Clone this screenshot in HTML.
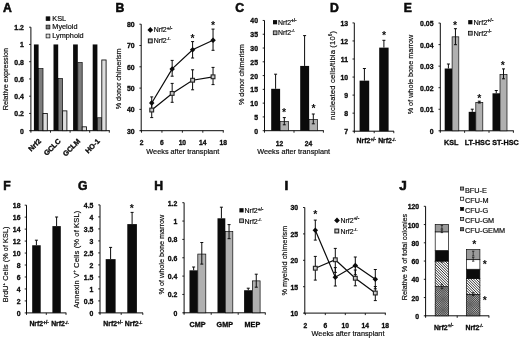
<!DOCTYPE html>
<html lang="en">
<head>
<meta charset="utf-8">
<title>Figure: Nrf2 panels A-J</title>
<style>
html,body{margin:0;padding:0;background:#fff;}
body{width:520px;height:340px;overflow:hidden;}
svg{display:block;font-family:"Liberation Sans", Arial, sans-serif;filter:grayscale(1) blur(0.4px);}
</style>
</head>
<body>
<svg width="520" height="340" viewBox="0 0 520 340">
<rect width="520" height="340" fill="#fff"/>

<text x="2.9" y="12" font-size="12.2" font-weight="bold" stroke="#0b0b0b" stroke-width="0.55" fill="#0b0b0b">A</text>
<line x1="30.9" y1="27.2" x2="30.9" y2="131.2" stroke="#0b0b0b" stroke-width="1"/>
<line x1="29.1" y1="130.7" x2="30.9" y2="130.7" stroke="#0b0b0b" stroke-width="0.9"/>
<text x="23.9" y="133.67" font-size="6.9" text-anchor="end" font-weight="bold" stroke="#0b0b0b" stroke-width="0.31" fill="#0b0b0b">0</text>
<line x1="29.1" y1="113.45" x2="30.9" y2="113.45" stroke="#0b0b0b" stroke-width="0.9"/>
<text x="23.9" y="116.42" font-size="6.9" text-anchor="end" font-weight="bold" stroke="#0b0b0b" stroke-width="0.31" fill="#0b0b0b">0.2</text>
<line x1="29.1" y1="96.2" x2="30.9" y2="96.2" stroke="#0b0b0b" stroke-width="0.9"/>
<text x="23.9" y="99.17" font-size="6.9" text-anchor="end" font-weight="bold" stroke="#0b0b0b" stroke-width="0.31" fill="#0b0b0b">0.4</text>
<line x1="29.1" y1="78.95" x2="30.9" y2="78.95" stroke="#0b0b0b" stroke-width="0.9"/>
<text x="23.9" y="81.92" font-size="6.9" text-anchor="end" font-weight="bold" stroke="#0b0b0b" stroke-width="0.31" fill="#0b0b0b">0.6</text>
<line x1="29.1" y1="61.7" x2="30.9" y2="61.7" stroke="#0b0b0b" stroke-width="0.9"/>
<text x="23.9" y="64.67" font-size="6.9" text-anchor="end" font-weight="bold" stroke="#0b0b0b" stroke-width="0.31" fill="#0b0b0b">0.8</text>
<line x1="29.1" y1="44.45" x2="30.9" y2="44.45" stroke="#0b0b0b" stroke-width="0.9"/>
<text x="23.9" y="47.42" font-size="6.9" text-anchor="end" font-weight="bold" stroke="#0b0b0b" stroke-width="0.31" fill="#0b0b0b">1</text>
<line x1="29.1" y1="27.2" x2="30.9" y2="27.2" stroke="#0b0b0b" stroke-width="0.9"/>
<text x="23.9" y="30.17" font-size="6.9" text-anchor="end" font-weight="bold" stroke="#0b0b0b" stroke-width="0.31" fill="#0b0b0b">1.2</text>
<line x1="30.4" y1="130.7" x2="109.8" y2="130.7" stroke="#0b0b0b" stroke-width="1"/>
<line x1="30.9" y1="130.7" x2="30.9" y2="132.7" stroke="#0b0b0b" stroke-width="0.9"/>
<line x1="50.5" y1="130.7" x2="50.5" y2="132.7" stroke="#0b0b0b" stroke-width="0.9"/>
<line x1="70.1" y1="130.7" x2="70.1" y2="132.7" stroke="#0b0b0b" stroke-width="0.9"/>
<line x1="89.7" y1="130.7" x2="89.7" y2="132.7" stroke="#0b0b0b" stroke-width="0.9"/>
<line x1="109.3" y1="130.7" x2="109.3" y2="132.7" stroke="#0b0b0b" stroke-width="0.9"/>
<rect x="33.9" y="44.45" width="4.7" height="86.25" fill="#0b0b0b"/>
<rect x="38.6" y="68.6" width="4.4" height="62.1" fill="#7d7d7d" stroke="#0b0b0b" stroke-width="0.7"/>
<rect x="43" y="113.45" width="4.3" height="17.25" fill="#dedede" stroke="#0b0b0b" stroke-width="0.85"/>
<rect x="53.5" y="44.45" width="4.7" height="86.25" fill="#0b0b0b"/>
<rect x="58.2" y="78.52" width="4.4" height="52.18" fill="#7d7d7d" stroke="#0b0b0b" stroke-width="0.7"/>
<rect x="62.6" y="110.86" width="4.3" height="19.84" fill="#dedede" stroke="#0b0b0b" stroke-width="0.85"/>
<rect x="73.1" y="44.45" width="4.7" height="86.25" fill="#0b0b0b"/>
<rect x="77.8" y="62.56" width="4.4" height="68.14" fill="#7d7d7d" stroke="#0b0b0b" stroke-width="0.7"/>
<rect x="82.2" y="126.82" width="4.3" height="3.88" fill="#dedede" stroke="#0b0b0b" stroke-width="0.85"/>
<rect x="92.7" y="44.45" width="4.7" height="86.25" fill="#0b0b0b"/>
<rect x="97.4" y="117.76" width="4.4" height="12.94" fill="#7d7d7d" stroke="#0b0b0b" stroke-width="0.7"/>
<rect x="101.8" y="59.97" width="4.3" height="70.72" fill="#dedede" stroke="#0b0b0b" stroke-width="0.85"/>
<text x="41.5" y="141.7" font-size="7.2" text-anchor="end" font-weight="bold" stroke="#0b0b0b" stroke-width="0.32" transform="rotate(-45 41.5 141.7)" fill="#0b0b0b">Nrf2</text>
<text x="61.1" y="141.7" font-size="7.2" text-anchor="end" font-weight="bold" stroke="#0b0b0b" stroke-width="0.32" transform="rotate(-45 61.1 141.7)" fill="#0b0b0b">GCLC</text>
<text x="80.7" y="141.7" font-size="7.2" text-anchor="end" font-weight="bold" stroke="#0b0b0b" stroke-width="0.32" transform="rotate(-45 80.7 141.7)" fill="#0b0b0b">GCLM</text>
<text x="100.3" y="141.7" font-size="7.2" text-anchor="end" font-weight="bold" stroke="#0b0b0b" stroke-width="0.32" transform="rotate(-45 100.3 141.7)" fill="#0b0b0b">HO-1</text>
<text x="8" y="79" font-size="7.25" text-anchor="middle" stroke="#0b0b0b" stroke-width="0.18" transform="rotate(-90 8 79)" fill="#0b0b0b" textLength="62.3" lengthAdjust="spacing">Relative expression</text>
<rect x="46.1" y="16.8" width="3.8" height="3.8" fill="#0b0b0b" stroke="#0b0b0b" stroke-width="0.7"/>
<text x="52.3" y="20.7" font-size="7.3" stroke="#0b0b0b" stroke-width="0.18" fill="#0b0b0b">KSL</text>
<rect x="46.1" y="25.1" width="3.8" height="3.8" fill="#7d7d7d" stroke="#0b0b0b" stroke-width="0.7"/>
<text x="52.3" y="29" font-size="7.3" stroke="#0b0b0b" stroke-width="0.18" fill="#0b0b0b">Myeloid</text>
<rect x="46.1" y="34.1" width="3.8" height="3.8" fill="#dedede" stroke="#0b0b0b" stroke-width="0.7"/>
<text x="52.3" y="38" font-size="7.3" stroke="#0b0b0b" stroke-width="0.18" fill="#0b0b0b">Lymphoid</text>
<text x="115.4" y="12" font-size="12.2" font-weight="bold" stroke="#0b0b0b" stroke-width="0.55" fill="#0b0b0b">B</text>
<line x1="141.2" y1="24.2" x2="141.2" y2="131.2" stroke="#0b0b0b" stroke-width="1"/>
<line x1="139.4" y1="130.7" x2="141.2" y2="130.7" stroke="#0b0b0b" stroke-width="0.9"/>
<text x="134.7" y="133.67" font-size="6.9" text-anchor="end" font-weight="bold" stroke="#0b0b0b" stroke-width="0.31" fill="#0b0b0b">30</text>
<line x1="139.4" y1="109.4" x2="141.2" y2="109.4" stroke="#0b0b0b" stroke-width="0.9"/>
<text x="134.7" y="112.37" font-size="6.9" text-anchor="end" font-weight="bold" stroke="#0b0b0b" stroke-width="0.31" fill="#0b0b0b">40</text>
<line x1="139.4" y1="88.1" x2="141.2" y2="88.1" stroke="#0b0b0b" stroke-width="0.9"/>
<text x="134.7" y="91.07" font-size="6.9" text-anchor="end" font-weight="bold" stroke="#0b0b0b" stroke-width="0.31" fill="#0b0b0b">50</text>
<line x1="139.4" y1="66.8" x2="141.2" y2="66.8" stroke="#0b0b0b" stroke-width="0.9"/>
<text x="134.7" y="69.77" font-size="6.9" text-anchor="end" font-weight="bold" stroke="#0b0b0b" stroke-width="0.31" fill="#0b0b0b">60</text>
<line x1="139.4" y1="45.5" x2="141.2" y2="45.5" stroke="#0b0b0b" stroke-width="0.9"/>
<text x="134.7" y="48.47" font-size="6.9" text-anchor="end" font-weight="bold" stroke="#0b0b0b" stroke-width="0.31" fill="#0b0b0b">70</text>
<line x1="139.4" y1="24.2" x2="141.2" y2="24.2" stroke="#0b0b0b" stroke-width="0.9"/>
<text x="134.7" y="27.17" font-size="6.9" text-anchor="end" font-weight="bold" stroke="#0b0b0b" stroke-width="0.31" fill="#0b0b0b">80</text>
<line x1="140.7" y1="130.7" x2="223.76" y2="130.7" stroke="#0b0b0b" stroke-width="1"/>
<line x1="141.5" y1="130.7" x2="141.5" y2="132.7" stroke="#0b0b0b" stroke-width="0.9"/>
<line x1="161.94" y1="130.7" x2="161.94" y2="132.7" stroke="#0b0b0b" stroke-width="0.9"/>
<line x1="182.38" y1="130.7" x2="182.38" y2="132.7" stroke="#0b0b0b" stroke-width="0.9"/>
<line x1="202.82" y1="130.7" x2="202.82" y2="132.7" stroke="#0b0b0b" stroke-width="0.9"/>
<line x1="223.26" y1="130.7" x2="223.26" y2="132.7" stroke="#0b0b0b" stroke-width="0.9"/>
<text x="141.5" y="144.8" font-size="6.7" text-anchor="middle" font-weight="bold" stroke="#0b0b0b" stroke-width="0.3" fill="#0b0b0b">2</text>
<text x="161.94" y="144.8" font-size="6.7" text-anchor="middle" font-weight="bold" stroke="#0b0b0b" stroke-width="0.3" fill="#0b0b0b">6</text>
<text x="182.38" y="144.8" font-size="6.7" text-anchor="middle" font-weight="bold" stroke="#0b0b0b" stroke-width="0.3" fill="#0b0b0b">10</text>
<text x="202.82" y="144.8" font-size="6.7" text-anchor="middle" font-weight="bold" stroke="#0b0b0b" stroke-width="0.3" fill="#0b0b0b">14</text>
<text x="223.26" y="144.8" font-size="6.7" text-anchor="middle" font-weight="bold" stroke="#0b0b0b" stroke-width="0.3" fill="#0b0b0b">18</text>
<text x="182.8" y="154" font-size="7.3" text-anchor="middle" stroke="#0b0b0b" stroke-width="0.18" fill="#0b0b0b">Weeks after transplant</text>
<text x="121.5" y="78.8" font-size="7.25" text-anchor="middle" stroke="#0b0b0b" stroke-width="0.18" transform="rotate(-90 121.5 78.8)" fill="#0b0b0b" textLength="60.8" lengthAdjust="spacing">% donor chimerism</text>
<line x1="151.72" y1="96.9" x2="151.72" y2="108.9" stroke="#0b0b0b" stroke-width="1"/>
<line x1="150.22" y1="96.9" x2="153.22" y2="96.9" stroke="#0b0b0b" stroke-width="1"/>
<line x1="150.22" y1="108.9" x2="153.22" y2="108.9" stroke="#0b0b0b" stroke-width="1"/>
<line x1="172.16" y1="60.4" x2="172.16" y2="76.2" stroke="#0b0b0b" stroke-width="1"/>
<line x1="170.66" y1="60.4" x2="173.66" y2="60.4" stroke="#0b0b0b" stroke-width="1"/>
<line x1="170.66" y1="76.2" x2="173.66" y2="76.2" stroke="#0b0b0b" stroke-width="1"/>
<line x1="192.6" y1="41.6" x2="192.6" y2="58" stroke="#0b0b0b" stroke-width="1"/>
<line x1="191.1" y1="41.6" x2="194.1" y2="41.6" stroke="#0b0b0b" stroke-width="1"/>
<line x1="191.1" y1="58" x2="194.1" y2="58" stroke="#0b0b0b" stroke-width="1"/>
<line x1="213.04" y1="29.1" x2="213.04" y2="50.3" stroke="#0b0b0b" stroke-width="1"/>
<line x1="211.54" y1="29.1" x2="214.54" y2="29.1" stroke="#0b0b0b" stroke-width="1"/>
<line x1="211.54" y1="50.3" x2="214.54" y2="50.3" stroke="#0b0b0b" stroke-width="1"/>
<line x1="151.72" y1="101.9" x2="151.72" y2="117.6" stroke="#0b0b0b" stroke-width="1"/>
<line x1="150.22" y1="101.9" x2="153.22" y2="101.9" stroke="#0b0b0b" stroke-width="1"/>
<line x1="150.22" y1="117.6" x2="153.22" y2="117.6" stroke="#0b0b0b" stroke-width="1"/>
<line x1="172.16" y1="83.4" x2="172.16" y2="102.3" stroke="#0b0b0b" stroke-width="1"/>
<line x1="170.66" y1="83.4" x2="173.66" y2="83.4" stroke="#0b0b0b" stroke-width="1"/>
<line x1="170.66" y1="102.3" x2="173.66" y2="102.3" stroke="#0b0b0b" stroke-width="1"/>
<line x1="192.6" y1="69.8" x2="192.6" y2="89.8" stroke="#0b0b0b" stroke-width="1"/>
<line x1="191.1" y1="69.8" x2="194.1" y2="69.8" stroke="#0b0b0b" stroke-width="1"/>
<line x1="191.1" y1="89.8" x2="194.1" y2="89.8" stroke="#0b0b0b" stroke-width="1"/>
<line x1="213.04" y1="67.4" x2="213.04" y2="84.6" stroke="#0b0b0b" stroke-width="1"/>
<line x1="211.54" y1="67.4" x2="214.54" y2="67.4" stroke="#0b0b0b" stroke-width="1"/>
<line x1="211.54" y1="84.6" x2="214.54" y2="84.6" stroke="#0b0b0b" stroke-width="1"/>
<polyline points="151.72,103.01 172.16,68.93 192.6,49.76 213.04,40.17" fill="none" stroke="#0b0b0b" stroke-width="1.2"/>
<polyline points="151.72,110.04 172.16,93.42 192.6,80.22 213.04,76.81" fill="none" stroke="#0b0b0b" stroke-width="1.2"/>
<path d="M151.72 100.26 L154.47 103.01 L151.72 105.76 L148.97 103.01Z" fill="#0b0b0b"/>
<path d="M172.16 66.18 L174.91 68.93 L172.16 71.68 L169.41 68.93Z" fill="#0b0b0b"/>
<path d="M192.6 47.01 L195.35 49.76 L192.6 52.51 L189.85 49.76Z" fill="#0b0b0b"/>
<path d="M213.04 37.42 L215.79 40.17 L213.04 42.92 L210.29 40.17Z" fill="#0b0b0b"/>
<rect x="149.82" y="108.14" width="3.8" height="3.8" fill="#c8c8c8" stroke="#222" stroke-width="1.1"/>
<rect x="170.26" y="91.52" width="3.8" height="3.8" fill="#c8c8c8" stroke="#222" stroke-width="1.1"/>
<rect x="190.7" y="78.32" width="3.8" height="3.8" fill="#c8c8c8" stroke="#222" stroke-width="1.1"/>
<rect x="211.14" y="74.91" width="3.8" height="3.8" fill="#c8c8c8" stroke="#222" stroke-width="1.1"/>
<text x="192.6" y="42.34" font-size="10.5" font-weight="bold" text-anchor="middle" fill="#0b0b0b">*</text>
<text x="213.04" y="28.84" font-size="10.5" font-weight="bold" text-anchor="middle" fill="#0b0b0b">*</text>
<path d="M150.3 27.05 L153.15 29.9 L150.3 32.75 L147.45 29.9Z" fill="#0b0b0b"/>
<text x="153.7" y="32.4" font-size="6.9" stroke="#0b0b0b" stroke-width="0.18" fill="#0b0b0b">Nrf2<tspan font-size="4.69" dy="-2.76" font-weight="bold">+/-</tspan></text>
<rect x="148.4" y="39" width="3.8" height="3.8" fill="#c8c8c8" stroke="#222" stroke-width="1.1"/>
<text x="153.7" y="43" font-size="6.9" stroke="#0b0b0b" stroke-width="0.18" fill="#0b0b0b">Nrf2<tspan font-size="4.14" dy="-2.76" font-weight="bold">-/-</tspan></text>
<text x="235.2" y="12" font-size="12.2" font-weight="bold" stroke="#0b0b0b" stroke-width="0.55" fill="#0b0b0b">C</text>
<line x1="264.5" y1="20.46" x2="264.5" y2="131.2" stroke="#0b0b0b" stroke-width="1"/>
<line x1="262.7" y1="130.7" x2="264.5" y2="130.7" stroke="#0b0b0b" stroke-width="0.9"/>
<text x="258" y="133.67" font-size="6.9" text-anchor="end" font-weight="bold" stroke="#0b0b0b" stroke-width="0.31" fill="#0b0b0b">0</text>
<line x1="262.7" y1="116.92" x2="264.5" y2="116.92" stroke="#0b0b0b" stroke-width="0.9"/>
<text x="258" y="119.89" font-size="6.9" text-anchor="end" font-weight="bold" stroke="#0b0b0b" stroke-width="0.31" fill="#0b0b0b">5</text>
<line x1="262.7" y1="103.14" x2="264.5" y2="103.14" stroke="#0b0b0b" stroke-width="0.9"/>
<text x="258" y="106.11" font-size="6.9" text-anchor="end" font-weight="bold" stroke="#0b0b0b" stroke-width="0.31" fill="#0b0b0b">10</text>
<line x1="262.7" y1="89.36" x2="264.5" y2="89.36" stroke="#0b0b0b" stroke-width="0.9"/>
<text x="258" y="92.33" font-size="6.9" text-anchor="end" font-weight="bold" stroke="#0b0b0b" stroke-width="0.31" fill="#0b0b0b">15</text>
<line x1="262.7" y1="75.58" x2="264.5" y2="75.58" stroke="#0b0b0b" stroke-width="0.9"/>
<text x="258" y="78.55" font-size="6.9" text-anchor="end" font-weight="bold" stroke="#0b0b0b" stroke-width="0.31" fill="#0b0b0b">20</text>
<line x1="262.7" y1="61.8" x2="264.5" y2="61.8" stroke="#0b0b0b" stroke-width="0.9"/>
<text x="258" y="64.77" font-size="6.9" text-anchor="end" font-weight="bold" stroke="#0b0b0b" stroke-width="0.31" fill="#0b0b0b">25</text>
<line x1="262.7" y1="48.02" x2="264.5" y2="48.02" stroke="#0b0b0b" stroke-width="0.9"/>
<text x="258" y="50.99" font-size="6.9" text-anchor="end" font-weight="bold" stroke="#0b0b0b" stroke-width="0.31" fill="#0b0b0b">30</text>
<line x1="262.7" y1="34.24" x2="264.5" y2="34.24" stroke="#0b0b0b" stroke-width="0.9"/>
<text x="258" y="37.21" font-size="6.9" text-anchor="end" font-weight="bold" stroke="#0b0b0b" stroke-width="0.31" fill="#0b0b0b">35</text>
<line x1="262.7" y1="20.46" x2="264.5" y2="20.46" stroke="#0b0b0b" stroke-width="0.9"/>
<text x="258" y="23.43" font-size="6.9" text-anchor="end" font-weight="bold" stroke="#0b0b0b" stroke-width="0.31" fill="#0b0b0b">40</text>
<line x1="264" y1="130.7" x2="323.8" y2="130.7" stroke="#0b0b0b" stroke-width="1"/>
<line x1="264.5" y1="130.7" x2="264.5" y2="132.7" stroke="#0b0b0b" stroke-width="0.9"/>
<line x1="294" y1="130.7" x2="294" y2="132.7" stroke="#0b0b0b" stroke-width="0.9"/>
<line x1="323.4" y1="130.7" x2="323.4" y2="132.7" stroke="#0b0b0b" stroke-width="0.9"/>
<rect x="271.2" y="88.81" width="8.9" height="41.89" fill="#0b0b0b"/>
<rect x="280.1" y="121.61" width="8.4" height="9.09" fill="#b0b0b0" stroke="#0b0b0b" stroke-width="0.7"/>
<rect x="300.2" y="65.93" width="8.9" height="64.77" fill="#0b0b0b"/>
<rect x="309.1" y="119.4" width="8.4" height="11.3" fill="#b0b0b0" stroke="#0b0b0b" stroke-width="0.7"/>
<line x1="275.6" y1="74.2" x2="275.6" y2="88.81" stroke="#0b0b0b" stroke-width="1"/>
<line x1="274.1" y1="74.2" x2="277.1" y2="74.2" stroke="#0b0b0b" stroke-width="1"/>
<line x1="304.6" y1="35.6" x2="304.6" y2="65.93" stroke="#0b0b0b" stroke-width="1"/>
<line x1="303.1" y1="35.6" x2="306.1" y2="35.6" stroke="#0b0b0b" stroke-width="1"/>
<line x1="284.3" y1="117.6" x2="284.3" y2="124.8" stroke="#0b0b0b" stroke-width="1"/>
<line x1="282.8" y1="117.6" x2="285.8" y2="117.6" stroke="#0b0b0b" stroke-width="1"/>
<line x1="282.8" y1="124.8" x2="285.8" y2="124.8" stroke="#0b0b0b" stroke-width="1"/>
<line x1="313.3" y1="114" x2="313.3" y2="123.8" stroke="#0b0b0b" stroke-width="1"/>
<line x1="311.8" y1="114" x2="314.8" y2="114" stroke="#0b0b0b" stroke-width="1"/>
<line x1="311.8" y1="123.8" x2="314.8" y2="123.8" stroke="#0b0b0b" stroke-width="1"/>
<text x="284" y="116.34" font-size="10.5" font-weight="bold" text-anchor="middle" fill="#0b0b0b">*</text>
<text x="313.5" y="112.04" font-size="10.5" font-weight="bold" text-anchor="middle" fill="#0b0b0b">*</text>
<text x="279.6" y="145.7" font-size="6.7" text-anchor="middle" font-weight="bold" stroke="#0b0b0b" stroke-width="0.3" fill="#0b0b0b">12</text>
<text x="308.6" y="145.7" font-size="6.7" text-anchor="middle" font-weight="bold" stroke="#0b0b0b" stroke-width="0.3" fill="#0b0b0b">24</text>
<text x="293.7" y="153.8" font-size="7.3" text-anchor="middle" stroke="#0b0b0b" stroke-width="0.18" fill="#0b0b0b">Weeks after transplant</text>
<text x="244.5" y="74.6" font-size="7.25" text-anchor="middle" stroke="#0b0b0b" stroke-width="0.18" transform="rotate(-90 244.5 74.6)" fill="#0b0b0b" textLength="61" lengthAdjust="spacing">% donor chimerism</text>
<rect x="273" y="20.1" width="4.1" height="4.2" fill="#0b0b0b"/>
<text x="278" y="24.7" font-size="6.9" stroke="#0b0b0b" stroke-width="0.18" fill="#0b0b0b">Nrf2<tspan font-size="4.69" dy="-2.76" font-weight="bold">+/-</tspan></text>
<rect x="273.3" y="30.9" width="3.7" height="3.8" fill="#b0b0b0" stroke="#0b0b0b" stroke-width="0.8"/>
<text x="278" y="35.1" font-size="6.9" stroke="#0b0b0b" stroke-width="0.18" fill="#0b0b0b">Nrf2<tspan font-size="4.14" dy="-2.76" font-weight="bold">-/-</tspan></text>
<text x="330" y="12" font-size="12.2" font-weight="bold" stroke="#0b0b0b" stroke-width="0.55" fill="#0b0b0b">D</text>
<line x1="354.3" y1="22.9" x2="354.3" y2="131.7" stroke="#0b0b0b" stroke-width="1"/>
<line x1="352.5" y1="131.2" x2="354.3" y2="131.2" stroke="#0b0b0b" stroke-width="0.9"/>
<text x="348.1" y="134.17" font-size="6.9" text-anchor="end" font-weight="bold" stroke="#0b0b0b" stroke-width="0.31" fill="#0b0b0b">7</text>
<line x1="352.5" y1="113.15" x2="354.3" y2="113.15" stroke="#0b0b0b" stroke-width="0.9"/>
<text x="348.1" y="116.12" font-size="6.9" text-anchor="end" font-weight="bold" stroke="#0b0b0b" stroke-width="0.31" fill="#0b0b0b">8</text>
<line x1="352.5" y1="95.1" x2="354.3" y2="95.1" stroke="#0b0b0b" stroke-width="0.9"/>
<text x="348.1" y="98.07" font-size="6.9" text-anchor="end" font-weight="bold" stroke="#0b0b0b" stroke-width="0.31" fill="#0b0b0b">9</text>
<line x1="352.5" y1="77.05" x2="354.3" y2="77.05" stroke="#0b0b0b" stroke-width="0.9"/>
<text x="348.1" y="80.02" font-size="6.9" text-anchor="end" font-weight="bold" stroke="#0b0b0b" stroke-width="0.31" fill="#0b0b0b">10</text>
<line x1="352.5" y1="59" x2="354.3" y2="59" stroke="#0b0b0b" stroke-width="0.9"/>
<text x="348.1" y="61.97" font-size="6.9" text-anchor="end" font-weight="bold" stroke="#0b0b0b" stroke-width="0.31" fill="#0b0b0b">11</text>
<line x1="352.5" y1="40.95" x2="354.3" y2="40.95" stroke="#0b0b0b" stroke-width="0.9"/>
<text x="348.1" y="43.92" font-size="6.9" text-anchor="end" font-weight="bold" stroke="#0b0b0b" stroke-width="0.31" fill="#0b0b0b">12</text>
<line x1="352.5" y1="22.9" x2="354.3" y2="22.9" stroke="#0b0b0b" stroke-width="0.9"/>
<text x="348.1" y="25.87" font-size="6.9" text-anchor="end" font-weight="bold" stroke="#0b0b0b" stroke-width="0.31" fill="#0b0b0b">13</text>
<line x1="353.8" y1="131.2" x2="394" y2="131.2" stroke="#0b0b0b" stroke-width="1"/>
<line x1="354.3" y1="131.2" x2="354.3" y2="133.2" stroke="#0b0b0b" stroke-width="0.9"/>
<line x1="374.2" y1="131.2" x2="374.2" y2="133.2" stroke="#0b0b0b" stroke-width="0.9"/>
<line x1="393.8" y1="131.2" x2="393.8" y2="133.2" stroke="#0b0b0b" stroke-width="0.9"/>
<rect x="359.6" y="80.66" width="9.6" height="50.54" fill="#0b0b0b"/>
<rect x="379.2" y="47.63" width="9.4" height="83.57" fill="#0b0b0b"/>
<line x1="364.4" y1="68.5" x2="364.4" y2="80.66" stroke="#0b0b0b" stroke-width="1"/>
<line x1="362.9" y1="68.5" x2="365.9" y2="68.5" stroke="#0b0b0b" stroke-width="1"/>
<line x1="383.9" y1="40.3" x2="383.9" y2="47.63" stroke="#0b0b0b" stroke-width="1"/>
<line x1="382.4" y1="40.3" x2="385.4" y2="40.3" stroke="#0b0b0b" stroke-width="1"/>
<text x="384" y="39.34" font-size="10.5" font-weight="bold" text-anchor="middle" fill="#0b0b0b">*</text>
<text x="366.3" y="143.4" font-size="6.9" text-anchor="middle" font-weight="bold" stroke="#0b0b0b" stroke-width="0.31" fill="#0b0b0b">Nrf2<tspan font-size="4.69" dy="-2.76" font-weight="bold">+/-</tspan></text>
<text x="387" y="143.4" font-size="6.9" text-anchor="middle" font-weight="bold" stroke="#0b0b0b" stroke-width="0.31" fill="#0b0b0b">Nrf2<tspan font-size="4.14" dy="-2.76" font-weight="bold">-/-</tspan></text>
<text x="335" y="75.4" font-size="7.7" text-anchor="middle" stroke="#0b0b0b" stroke-width="0.18" transform="rotate(-90 335 75.4)" fill="#0b0b0b" textLength="89" lengthAdjust="spacing">nucleated cells/tibia (10<tspan font-size="4.6" dy="-2.8">6</tspan><tspan dy="2.8">)</tspan></text>
<text x="403.8" y="12" font-size="12.2" font-weight="bold" stroke="#0b0b0b" stroke-width="0.55" fill="#0b0b0b">E</text>
<line x1="440.3" y1="23.05" x2="440.3" y2="131.3" stroke="#0b0b0b" stroke-width="1"/>
<line x1="438.5" y1="130.8" x2="440.3" y2="130.8" stroke="#0b0b0b" stroke-width="0.9"/>
<text x="433.5" y="133.77" font-size="6.9" text-anchor="end" font-weight="bold" stroke="#0b0b0b" stroke-width="0.31" fill="#0b0b0b">0</text>
<line x1="438.5" y1="109.25" x2="440.3" y2="109.25" stroke="#0b0b0b" stroke-width="0.9"/>
<text x="433.5" y="112.22" font-size="6.9" text-anchor="end" font-weight="bold" stroke="#0b0b0b" stroke-width="0.31" fill="#0b0b0b">0.01</text>
<line x1="438.5" y1="87.7" x2="440.3" y2="87.7" stroke="#0b0b0b" stroke-width="0.9"/>
<text x="433.5" y="90.67" font-size="6.9" text-anchor="end" font-weight="bold" stroke="#0b0b0b" stroke-width="0.31" fill="#0b0b0b">0.02</text>
<line x1="438.5" y1="66.15" x2="440.3" y2="66.15" stroke="#0b0b0b" stroke-width="0.9"/>
<text x="433.5" y="69.12" font-size="6.9" text-anchor="end" font-weight="bold" stroke="#0b0b0b" stroke-width="0.31" fill="#0b0b0b">0.03</text>
<line x1="438.5" y1="44.6" x2="440.3" y2="44.6" stroke="#0b0b0b" stroke-width="0.9"/>
<text x="433.5" y="47.57" font-size="6.9" text-anchor="end" font-weight="bold" stroke="#0b0b0b" stroke-width="0.31" fill="#0b0b0b">0.04</text>
<line x1="438.5" y1="23.05" x2="440.3" y2="23.05" stroke="#0b0b0b" stroke-width="0.9"/>
<text x="433.5" y="26.02" font-size="6.9" text-anchor="end" font-weight="bold" stroke="#0b0b0b" stroke-width="0.31" fill="#0b0b0b">0.05</text>
<line x1="439.8" y1="130.8" x2="513.8" y2="130.8" stroke="#0b0b0b" stroke-width="1"/>
<line x1="440.3" y1="130.8" x2="440.3" y2="132.8" stroke="#0b0b0b" stroke-width="0.9"/>
<line x1="464.6" y1="130.8" x2="464.6" y2="132.8" stroke="#0b0b0b" stroke-width="0.9"/>
<line x1="489" y1="130.8" x2="489" y2="132.8" stroke="#0b0b0b" stroke-width="0.9"/>
<line x1="513.4" y1="130.8" x2="513.4" y2="132.8" stroke="#0b0b0b" stroke-width="0.9"/>
<rect x="444.7" y="68.52" width="7.4" height="62.28" fill="#0b0b0b"/>
<rect x="452.1" y="36.84" width="6.7" height="93.96" fill="#b0b0b0" stroke="#0b0b0b" stroke-width="0.7"/>
<line x1="448.4" y1="64" x2="448.4" y2="68.52" stroke="#0b0b0b" stroke-width="1"/>
<line x1="446.9" y1="64" x2="449.9" y2="64" stroke="#0b0b0b" stroke-width="1"/>
<line x1="455.45" y1="28.7" x2="455.45" y2="44.7" stroke="#0b0b0b" stroke-width="1"/>
<line x1="453.95" y1="28.7" x2="456.95" y2="28.7" stroke="#0b0b0b" stroke-width="1"/>
<line x1="453.95" y1="44.7" x2="456.95" y2="44.7" stroke="#0b0b0b" stroke-width="1"/>
<rect x="468.7" y="111.84" width="7.1" height="18.96" fill="#0b0b0b"/>
<rect x="475.8" y="102.35" width="7" height="28.45" fill="#b0b0b0" stroke="#0b0b0b" stroke-width="0.7"/>
<line x1="472.25" y1="109.2" x2="472.25" y2="111.84" stroke="#0b0b0b" stroke-width="1"/>
<line x1="470.75" y1="109.2" x2="473.75" y2="109.2" stroke="#0b0b0b" stroke-width="1"/>
<line x1="479.3" y1="101.2" x2="479.3" y2="103" stroke="#0b0b0b" stroke-width="1"/>
<line x1="477.8" y1="101.2" x2="480.8" y2="101.2" stroke="#0b0b0b" stroke-width="1"/>
<line x1="477.8" y1="103" x2="480.8" y2="103" stroke="#0b0b0b" stroke-width="1"/>
<rect x="492.5" y="93.3" width="7.5" height="37.5" fill="#0b0b0b"/>
<rect x="500" y="74.55" width="7" height="56.25" fill="#b0b0b0" stroke="#0b0b0b" stroke-width="0.7"/>
<line x1="496.25" y1="90.5" x2="496.25" y2="93.3" stroke="#0b0b0b" stroke-width="1"/>
<line x1="494.75" y1="90.5" x2="497.75" y2="90.5" stroke="#0b0b0b" stroke-width="1"/>
<line x1="503.5" y1="68.9" x2="503.5" y2="78.8" stroke="#0b0b0b" stroke-width="1"/>
<line x1="502" y1="68.9" x2="505" y2="68.9" stroke="#0b0b0b" stroke-width="1"/>
<line x1="502" y1="78.8" x2="505" y2="78.8" stroke="#0b0b0b" stroke-width="1"/>
<text x="455" y="29.34" font-size="10.5" font-weight="bold" text-anchor="middle" fill="#0b0b0b">*</text>
<text x="479.3" y="101.84" font-size="10.5" font-weight="bold" text-anchor="middle" fill="#0b0b0b">*</text>
<text x="502.9" y="69.34" font-size="10.5" font-weight="bold" text-anchor="middle" fill="#0b0b0b">*</text>
<text x="451.2" y="144.5" font-size="7.2" text-anchor="middle" font-weight="bold" stroke="#0b0b0b" stroke-width="0.32" fill="#0b0b0b">KSL</text>
<text x="477.4" y="144.5" font-size="7.2" text-anchor="middle" font-weight="bold" stroke="#0b0b0b" stroke-width="0.32" fill="#0b0b0b">LT-HSC</text>
<text x="505.5" y="144.5" font-size="7.2" text-anchor="middle" font-weight="bold" stroke="#0b0b0b" stroke-width="0.32" fill="#0b0b0b">ST-HSC</text>
<text x="413.4" y="74.5" font-size="7.25" text-anchor="middle" stroke="#0b0b0b" stroke-width="0.18" transform="rotate(-90 413.4 74.5)" fill="#0b0b0b" textLength="79.6" lengthAdjust="spacing">% of whole bone marrow</text>
<rect x="468.2" y="20.1" width="4.2" height="4.2" fill="#0b0b0b"/>
<text x="473.4" y="24.6" font-size="7.4" stroke="#0b0b0b" stroke-width="0.18" fill="#0b0b0b">Nrf2<tspan font-size="5.03" dy="-2.96" font-weight="bold">+/-</tspan></text>
<rect x="468.5" y="31.3" width="3.7" height="3.8" fill="#b0b0b0" stroke="#0b0b0b" stroke-width="0.8"/>
<text x="473.4" y="35.6" font-size="7.4" stroke="#0b0b0b" stroke-width="0.18" fill="#0b0b0b">Nrf2<tspan font-size="4.44" dy="-2.96" font-weight="bold">-/-</tspan></text>
<text x="3.2" y="189.6" font-size="12.2" font-weight="bold" stroke="#0b0b0b" stroke-width="0.55" fill="#0b0b0b">F</text>
<line x1="26.5" y1="205.17" x2="26.5" y2="313.4" stroke="#0b0b0b" stroke-width="1"/>
<line x1="24.7" y1="312.9" x2="26.5" y2="312.9" stroke="#0b0b0b" stroke-width="0.9"/>
<text x="20.5" y="315.87" font-size="6.9" text-anchor="end" font-weight="bold" stroke="#0b0b0b" stroke-width="0.31" fill="#0b0b0b">0</text>
<line x1="24.7" y1="300.93" x2="26.5" y2="300.93" stroke="#0b0b0b" stroke-width="0.9"/>
<text x="20.5" y="303.9" font-size="6.9" text-anchor="end" font-weight="bold" stroke="#0b0b0b" stroke-width="0.31" fill="#0b0b0b">2</text>
<line x1="24.7" y1="288.96" x2="26.5" y2="288.96" stroke="#0b0b0b" stroke-width="0.9"/>
<text x="20.5" y="291.93" font-size="6.9" text-anchor="end" font-weight="bold" stroke="#0b0b0b" stroke-width="0.31" fill="#0b0b0b">4</text>
<line x1="24.7" y1="276.99" x2="26.5" y2="276.99" stroke="#0b0b0b" stroke-width="0.9"/>
<text x="20.5" y="279.96" font-size="6.9" text-anchor="end" font-weight="bold" stroke="#0b0b0b" stroke-width="0.31" fill="#0b0b0b">6</text>
<line x1="24.7" y1="265.02" x2="26.5" y2="265.02" stroke="#0b0b0b" stroke-width="0.9"/>
<text x="20.5" y="267.99" font-size="6.9" text-anchor="end" font-weight="bold" stroke="#0b0b0b" stroke-width="0.31" fill="#0b0b0b">8</text>
<line x1="24.7" y1="253.05" x2="26.5" y2="253.05" stroke="#0b0b0b" stroke-width="0.9"/>
<text x="20.5" y="256.02" font-size="6.9" text-anchor="end" font-weight="bold" stroke="#0b0b0b" stroke-width="0.31" fill="#0b0b0b">10</text>
<line x1="24.7" y1="241.08" x2="26.5" y2="241.08" stroke="#0b0b0b" stroke-width="0.9"/>
<text x="20.5" y="244.05" font-size="6.9" text-anchor="end" font-weight="bold" stroke="#0b0b0b" stroke-width="0.31" fill="#0b0b0b">12</text>
<line x1="24.7" y1="229.11" x2="26.5" y2="229.11" stroke="#0b0b0b" stroke-width="0.9"/>
<text x="20.5" y="232.08" font-size="6.9" text-anchor="end" font-weight="bold" stroke="#0b0b0b" stroke-width="0.31" fill="#0b0b0b">14</text>
<line x1="24.7" y1="217.14" x2="26.5" y2="217.14" stroke="#0b0b0b" stroke-width="0.9"/>
<text x="20.5" y="220.11" font-size="6.9" text-anchor="end" font-weight="bold" stroke="#0b0b0b" stroke-width="0.31" fill="#0b0b0b">16</text>
<line x1="24.7" y1="205.17" x2="26.5" y2="205.17" stroke="#0b0b0b" stroke-width="0.9"/>
<text x="20.5" y="208.14" font-size="6.9" text-anchor="end" font-weight="bold" stroke="#0b0b0b" stroke-width="0.31" fill="#0b0b0b">18</text>
<line x1="26" y1="312.9" x2="66.3" y2="312.9" stroke="#0b0b0b" stroke-width="1"/>
<line x1="26.5" y1="312.9" x2="26.5" y2="314.9" stroke="#0b0b0b" stroke-width="0.9"/>
<line x1="46.3" y1="312.9" x2="46.3" y2="314.9" stroke="#0b0b0b" stroke-width="0.9"/>
<line x1="66" y1="312.9" x2="66" y2="314.9" stroke="#0b0b0b" stroke-width="0.9"/>
<rect x="32.2" y="245.27" width="8.5" height="67.63" fill="#0b0b0b"/>
<rect x="52.4" y="226.12" width="8.4" height="86.78" fill="#0b0b0b"/>
<line x1="36.4" y1="240.2" x2="36.4" y2="245.27" stroke="#0b0b0b" stroke-width="1"/>
<line x1="34.9" y1="240.2" x2="37.9" y2="240.2" stroke="#0b0b0b" stroke-width="1"/>
<line x1="56.6" y1="217" x2="56.6" y2="226.12" stroke="#0b0b0b" stroke-width="1"/>
<line x1="55.1" y1="217" x2="58.1" y2="217" stroke="#0b0b0b" stroke-width="1"/>
<text x="39.1" y="326.4" font-size="6.9" text-anchor="middle" font-weight="bold" stroke="#0b0b0b" stroke-width="0.31" fill="#0b0b0b">Nrf2<tspan font-size="4.69" dy="-2.76" font-weight="bold">+/-</tspan></text>
<text x="60" y="326.4" font-size="6.9" text-anchor="middle" font-weight="bold" stroke="#0b0b0b" stroke-width="0.31" fill="#0b0b0b">Nrf2<tspan font-size="4.14" dy="-2.76" font-weight="bold">-/-</tspan></text>
<text x="8.2" y="264.4" font-size="7.25" text-anchor="middle" stroke="#0b0b0b" stroke-width="0.18" transform="rotate(-90 8.2 264.4)" fill="#0b0b0b" textLength="75.7" lengthAdjust="spacing">BrdU<tspan font-size="4.4" dy="-2.7">+</tspan><tspan dy="2.7"> Cells (% of KSL)</tspan></text>
<text x="78" y="189.6" font-size="12.2" font-weight="bold" stroke="#0b0b0b" stroke-width="0.55" fill="#0b0b0b">G</text>
<line x1="100" y1="204.9" x2="100" y2="313.4" stroke="#0b0b0b" stroke-width="1"/>
<line x1="98.2" y1="312.9" x2="100" y2="312.9" stroke="#0b0b0b" stroke-width="0.9"/>
<text x="93.4" y="315.87" font-size="6.9" text-anchor="end" font-weight="bold" stroke="#0b0b0b" stroke-width="0.31" fill="#0b0b0b">0</text>
<line x1="98.2" y1="300.9" x2="100" y2="300.9" stroke="#0b0b0b" stroke-width="0.9"/>
<text x="93.4" y="303.87" font-size="6.9" text-anchor="end" font-weight="bold" stroke="#0b0b0b" stroke-width="0.31" fill="#0b0b0b">0.5</text>
<line x1="98.2" y1="288.9" x2="100" y2="288.9" stroke="#0b0b0b" stroke-width="0.9"/>
<text x="93.4" y="291.87" font-size="6.9" text-anchor="end" font-weight="bold" stroke="#0b0b0b" stroke-width="0.31" fill="#0b0b0b">1</text>
<line x1="98.2" y1="276.9" x2="100" y2="276.9" stroke="#0b0b0b" stroke-width="0.9"/>
<text x="93.4" y="279.87" font-size="6.9" text-anchor="end" font-weight="bold" stroke="#0b0b0b" stroke-width="0.31" fill="#0b0b0b">1.5</text>
<line x1="98.2" y1="264.9" x2="100" y2="264.9" stroke="#0b0b0b" stroke-width="0.9"/>
<text x="93.4" y="267.87" font-size="6.9" text-anchor="end" font-weight="bold" stroke="#0b0b0b" stroke-width="0.31" fill="#0b0b0b">2</text>
<line x1="98.2" y1="252.9" x2="100" y2="252.9" stroke="#0b0b0b" stroke-width="0.9"/>
<text x="93.4" y="255.87" font-size="6.9" text-anchor="end" font-weight="bold" stroke="#0b0b0b" stroke-width="0.31" fill="#0b0b0b">2.5</text>
<line x1="98.2" y1="240.9" x2="100" y2="240.9" stroke="#0b0b0b" stroke-width="0.9"/>
<text x="93.4" y="243.87" font-size="6.9" text-anchor="end" font-weight="bold" stroke="#0b0b0b" stroke-width="0.31" fill="#0b0b0b">3</text>
<line x1="98.2" y1="228.9" x2="100" y2="228.9" stroke="#0b0b0b" stroke-width="0.9"/>
<text x="93.4" y="231.87" font-size="6.9" text-anchor="end" font-weight="bold" stroke="#0b0b0b" stroke-width="0.31" fill="#0b0b0b">3.5</text>
<line x1="98.2" y1="216.9" x2="100" y2="216.9" stroke="#0b0b0b" stroke-width="0.9"/>
<text x="93.4" y="219.87" font-size="6.9" text-anchor="end" font-weight="bold" stroke="#0b0b0b" stroke-width="0.31" fill="#0b0b0b">4</text>
<line x1="98.2" y1="204.9" x2="100" y2="204.9" stroke="#0b0b0b" stroke-width="0.9"/>
<text x="93.4" y="207.87" font-size="6.9" text-anchor="end" font-weight="bold" stroke="#0b0b0b" stroke-width="0.31" fill="#0b0b0b">4.5</text>
<line x1="99.5" y1="312.9" x2="143" y2="312.9" stroke="#0b0b0b" stroke-width="1"/>
<line x1="100" y1="312.9" x2="100" y2="314.9" stroke="#0b0b0b" stroke-width="0.9"/>
<line x1="121.2" y1="312.9" x2="121.2" y2="314.9" stroke="#0b0b0b" stroke-width="0.9"/>
<line x1="142.8" y1="312.9" x2="142.8" y2="314.9" stroke="#0b0b0b" stroke-width="0.9"/>
<rect x="105.7" y="259.14" width="9.9" height="53.76" fill="#0b0b0b"/>
<rect x="127.3" y="224.1" width="9.6" height="88.8" fill="#0b0b0b"/>
<line x1="110.6" y1="247.4" x2="110.6" y2="259.14" stroke="#0b0b0b" stroke-width="1"/>
<line x1="109.1" y1="247.4" x2="112.1" y2="247.4" stroke="#0b0b0b" stroke-width="1"/>
<line x1="132.1" y1="212.4" x2="132.1" y2="224.1" stroke="#0b0b0b" stroke-width="1"/>
<line x1="130.6" y1="212.4" x2="133.6" y2="212.4" stroke="#0b0b0b" stroke-width="1"/>
<text x="131.9" y="211.84" font-size="10.5" font-weight="bold" text-anchor="middle" fill="#0b0b0b">*</text>
<text x="113" y="326.4" font-size="6.9" text-anchor="middle" font-weight="bold" stroke="#0b0b0b" stroke-width="0.31" fill="#0b0b0b">Nrf2<tspan font-size="4.69" dy="-2.76" font-weight="bold">+/-</tspan></text>
<text x="133.6" y="326.4" font-size="6.9" text-anchor="middle" font-weight="bold" stroke="#0b0b0b" stroke-width="0.31" fill="#0b0b0b">Nrf2<tspan font-size="4.14" dy="-2.76" font-weight="bold">-/-</tspan></text>
<text x="78.8" y="259.5" font-size="7.7" text-anchor="middle" stroke="#0b0b0b" stroke-width="0.18" transform="rotate(-90 78.8 259.5)" fill="#0b0b0b" textLength="97.6" lengthAdjust="spacing">Annexin V<tspan font-size="4.6" dy="-2.8">+</tspan><tspan dy="2.8"> Cells (% of KSL)</tspan></text>
<text x="154.2" y="189.6" font-size="12.2" font-weight="bold" stroke="#0b0b0b" stroke-width="0.55" fill="#0b0b0b">H</text>
<line x1="184.1" y1="202.7" x2="184.1" y2="313.3" stroke="#0b0b0b" stroke-width="1"/>
<line x1="182.3" y1="312.8" x2="184.1" y2="312.8" stroke="#0b0b0b" stroke-width="0.9"/>
<text x="177.3" y="315.77" font-size="6.9" text-anchor="end" font-weight="bold" stroke="#0b0b0b" stroke-width="0.31" fill="#0b0b0b">0</text>
<line x1="182.3" y1="294.45" x2="184.1" y2="294.45" stroke="#0b0b0b" stroke-width="0.9"/>
<text x="177.3" y="297.42" font-size="6.9" text-anchor="end" font-weight="bold" stroke="#0b0b0b" stroke-width="0.31" fill="#0b0b0b">0.2</text>
<line x1="182.3" y1="276.1" x2="184.1" y2="276.1" stroke="#0b0b0b" stroke-width="0.9"/>
<text x="177.3" y="279.07" font-size="6.9" text-anchor="end" font-weight="bold" stroke="#0b0b0b" stroke-width="0.31" fill="#0b0b0b">0.4</text>
<line x1="182.3" y1="257.75" x2="184.1" y2="257.75" stroke="#0b0b0b" stroke-width="0.9"/>
<text x="177.3" y="260.72" font-size="6.9" text-anchor="end" font-weight="bold" stroke="#0b0b0b" stroke-width="0.31" fill="#0b0b0b">0.6</text>
<line x1="182.3" y1="239.4" x2="184.1" y2="239.4" stroke="#0b0b0b" stroke-width="0.9"/>
<text x="177.3" y="242.37" font-size="6.9" text-anchor="end" font-weight="bold" stroke="#0b0b0b" stroke-width="0.31" fill="#0b0b0b">0.8</text>
<line x1="182.3" y1="221.05" x2="184.1" y2="221.05" stroke="#0b0b0b" stroke-width="0.9"/>
<text x="177.3" y="224.02" font-size="6.9" text-anchor="end" font-weight="bold" stroke="#0b0b0b" stroke-width="0.31" fill="#0b0b0b">1</text>
<line x1="182.3" y1="202.7" x2="184.1" y2="202.7" stroke="#0b0b0b" stroke-width="0.9"/>
<text x="177.3" y="205.67" font-size="6.9" text-anchor="end" font-weight="bold" stroke="#0b0b0b" stroke-width="0.31" fill="#0b0b0b">1.2</text>
<line x1="183.6" y1="312.8" x2="265.6" y2="312.8" stroke="#0b0b0b" stroke-width="1"/>
<line x1="184.1" y1="312.8" x2="184.1" y2="314.8" stroke="#0b0b0b" stroke-width="0.9"/>
<line x1="211.2" y1="312.8" x2="211.2" y2="314.8" stroke="#0b0b0b" stroke-width="0.9"/>
<line x1="238.2" y1="312.8" x2="238.2" y2="314.8" stroke="#0b0b0b" stroke-width="0.9"/>
<line x1="265.3" y1="312.8" x2="265.3" y2="314.8" stroke="#0b0b0b" stroke-width="0.9"/>
<rect x="189.5" y="270.32" width="8.3" height="42.48" fill="#0b0b0b"/>
<rect x="197.8" y="254.08" width="8" height="58.72" fill="#b0b0b0" stroke="#0b0b0b" stroke-width="0.7"/>
<line x1="193.65" y1="267" x2="193.65" y2="270.32" stroke="#0b0b0b" stroke-width="1"/>
<line x1="192.15" y1="267" x2="195.15" y2="267" stroke="#0b0b0b" stroke-width="1"/>
<line x1="201.8" y1="242.5" x2="201.8" y2="264.1" stroke="#0b0b0b" stroke-width="1"/>
<line x1="200.3" y1="242.5" x2="203.3" y2="242.5" stroke="#0b0b0b" stroke-width="1"/>
<line x1="200.3" y1="264.1" x2="203.3" y2="264.1" stroke="#0b0b0b" stroke-width="1"/>
<rect x="217.5" y="218.3" width="7.8" height="94.5" fill="#0b0b0b"/>
<rect x="225.3" y="231.6" width="7.5" height="81.2" fill="#b0b0b0" stroke="#0b0b0b" stroke-width="0.7"/>
<line x1="221.4" y1="207.2" x2="221.4" y2="218.3" stroke="#0b0b0b" stroke-width="1"/>
<line x1="219.9" y1="207.2" x2="222.9" y2="207.2" stroke="#0b0b0b" stroke-width="1"/>
<line x1="229.05" y1="224.6" x2="229.05" y2="238.7" stroke="#0b0b0b" stroke-width="1"/>
<line x1="227.55" y1="224.6" x2="230.55" y2="224.6" stroke="#0b0b0b" stroke-width="1"/>
<line x1="227.55" y1="238.7" x2="230.55" y2="238.7" stroke="#0b0b0b" stroke-width="1"/>
<rect x="244.1" y="290.23" width="8.3" height="22.57" fill="#0b0b0b"/>
<rect x="252.4" y="280.87" width="7.7" height="31.93" fill="#b0b0b0" stroke="#0b0b0b" stroke-width="0.7"/>
<line x1="248.25" y1="288.2" x2="248.25" y2="290.23" stroke="#0b0b0b" stroke-width="1"/>
<line x1="246.75" y1="288.2" x2="249.75" y2="288.2" stroke="#0b0b0b" stroke-width="1"/>
<line x1="256.25" y1="274.2" x2="256.25" y2="287.2" stroke="#0b0b0b" stroke-width="1"/>
<line x1="254.75" y1="274.2" x2="257.75" y2="274.2" stroke="#0b0b0b" stroke-width="1"/>
<line x1="254.75" y1="287.2" x2="257.75" y2="287.2" stroke="#0b0b0b" stroke-width="1"/>
<text x="197.5" y="326.9" font-size="7.2" text-anchor="middle" font-weight="bold" stroke="#0b0b0b" stroke-width="0.32" fill="#0b0b0b">CMP</text>
<text x="224.8" y="326.9" font-size="7.2" text-anchor="middle" font-weight="bold" stroke="#0b0b0b" stroke-width="0.32" fill="#0b0b0b">GMP</text>
<text x="252.4" y="326.9" font-size="7.2" text-anchor="middle" font-weight="bold" stroke="#0b0b0b" stroke-width="0.32" fill="#0b0b0b">MEP</text>
<text x="163.8" y="254.6" font-size="7.25" text-anchor="middle" stroke="#0b0b0b" stroke-width="0.18" transform="rotate(-90 163.8 254.6)" fill="#0b0b0b" textLength="79.6" lengthAdjust="spacing">% of whole bone marrow</text>
<rect x="239.4" y="208.2" width="4.2" height="4.2" fill="#0b0b0b"/>
<text x="244.5" y="213.4" font-size="7" stroke="#0b0b0b" stroke-width="0.18" fill="#0b0b0b">Nrf2<tspan font-size="4.76" dy="-2.8" font-weight="bold">+/-</tspan></text>
<rect x="239.7" y="218.9" width="3.7" height="3.8" fill="#b0b0b0" stroke="#0b0b0b" stroke-width="0.8"/>
<text x="244.5" y="223.5" font-size="7" stroke="#0b0b0b" stroke-width="0.18" fill="#0b0b0b">Nrf2<tspan font-size="4.2" dy="-2.8" font-weight="bold">-/-</tspan></text>
<text x="284.5" y="189.7" font-size="13.6" font-weight="bold" stroke="#0b0b0b" stroke-width="0.61" fill="#0b0b0b">I</text>
<line x1="304.8" y1="207.5" x2="304.8" y2="313.6" stroke="#0b0b0b" stroke-width="1"/>
<line x1="303" y1="313.1" x2="304.8" y2="313.1" stroke="#0b0b0b" stroke-width="0.9"/>
<text x="298.2" y="316.07" font-size="6.9" text-anchor="end" font-weight="bold" stroke="#0b0b0b" stroke-width="0.31" fill="#0b0b0b">10</text>
<line x1="303" y1="286.7" x2="304.8" y2="286.7" stroke="#0b0b0b" stroke-width="0.9"/>
<text x="298.2" y="289.67" font-size="6.9" text-anchor="end" font-weight="bold" stroke="#0b0b0b" stroke-width="0.31" fill="#0b0b0b">15</text>
<line x1="303" y1="260.3" x2="304.8" y2="260.3" stroke="#0b0b0b" stroke-width="0.9"/>
<text x="298.2" y="263.27" font-size="6.9" text-anchor="end" font-weight="bold" stroke="#0b0b0b" stroke-width="0.31" fill="#0b0b0b">20</text>
<line x1="303" y1="233.9" x2="304.8" y2="233.9" stroke="#0b0b0b" stroke-width="0.9"/>
<text x="298.2" y="236.87" font-size="6.9" text-anchor="end" font-weight="bold" stroke="#0b0b0b" stroke-width="0.31" fill="#0b0b0b">25</text>
<line x1="303" y1="207.5" x2="304.8" y2="207.5" stroke="#0b0b0b" stroke-width="0.9"/>
<text x="298.2" y="210.47" font-size="6.9" text-anchor="end" font-weight="bold" stroke="#0b0b0b" stroke-width="0.31" fill="#0b0b0b">30</text>
<line x1="304.3" y1="313.1" x2="385.8" y2="313.1" stroke="#0b0b0b" stroke-width="1"/>
<line x1="305.3" y1="313.1" x2="305.3" y2="315.1" stroke="#0b0b0b" stroke-width="0.9"/>
<line x1="325.3" y1="313.1" x2="325.3" y2="315.1" stroke="#0b0b0b" stroke-width="0.9"/>
<line x1="345.3" y1="313.1" x2="345.3" y2="315.1" stroke="#0b0b0b" stroke-width="0.9"/>
<line x1="365.3" y1="313.1" x2="365.3" y2="315.1" stroke="#0b0b0b" stroke-width="0.9"/>
<line x1="385.3" y1="313.1" x2="385.3" y2="315.1" stroke="#0b0b0b" stroke-width="0.9"/>
<text x="305.3" y="327.7" font-size="6.7" text-anchor="middle" font-weight="bold" stroke="#0b0b0b" stroke-width="0.3" fill="#0b0b0b">2</text>
<text x="325.3" y="327.7" font-size="6.7" text-anchor="middle" font-weight="bold" stroke="#0b0b0b" stroke-width="0.3" fill="#0b0b0b">6</text>
<text x="345.3" y="327.7" font-size="6.7" text-anchor="middle" font-weight="bold" stroke="#0b0b0b" stroke-width="0.3" fill="#0b0b0b">10</text>
<text x="365.3" y="327.7" font-size="6.7" text-anchor="middle" font-weight="bold" stroke="#0b0b0b" stroke-width="0.3" fill="#0b0b0b">14</text>
<text x="385.3" y="327.7" font-size="6.7" text-anchor="middle" font-weight="bold" stroke="#0b0b0b" stroke-width="0.3" fill="#0b0b0b">18</text>
<text x="348" y="336.4" font-size="7.3" text-anchor="middle" stroke="#0b0b0b" stroke-width="0.18" fill="#0b0b0b">Weeks after transplant</text>
<text x="286.7" y="260.6" font-size="7.25" text-anchor="middle" stroke="#0b0b0b" stroke-width="0.18" transform="rotate(-90 286.7 260.6)" fill="#0b0b0b" textLength="69.9" lengthAdjust="spacing">% myeloid chimerism</text>
<line x1="315.3" y1="220.1" x2="315.3" y2="240.1" stroke="#0b0b0b" stroke-width="1"/>
<line x1="313.8" y1="220.1" x2="316.8" y2="220.1" stroke="#0b0b0b" stroke-width="1"/>
<line x1="313.8" y1="240.1" x2="316.8" y2="240.1" stroke="#0b0b0b" stroke-width="1"/>
<line x1="335.3" y1="267.6" x2="335.3" y2="286" stroke="#0b0b0b" stroke-width="1"/>
<line x1="333.8" y1="267.6" x2="336.8" y2="267.6" stroke="#0b0b0b" stroke-width="1"/>
<line x1="333.8" y1="286" x2="336.8" y2="286" stroke="#0b0b0b" stroke-width="1"/>
<line x1="355.3" y1="257" x2="355.3" y2="274.7" stroke="#0b0b0b" stroke-width="1"/>
<line x1="353.8" y1="257" x2="356.8" y2="257" stroke="#0b0b0b" stroke-width="1"/>
<line x1="353.8" y1="274.7" x2="356.8" y2="274.7" stroke="#0b0b0b" stroke-width="1"/>
<line x1="375.3" y1="269.5" x2="375.3" y2="288.8" stroke="#0b0b0b" stroke-width="1"/>
<line x1="373.8" y1="269.5" x2="376.8" y2="269.5" stroke="#0b0b0b" stroke-width="1"/>
<line x1="373.8" y1="288.8" x2="376.8" y2="288.8" stroke="#0b0b0b" stroke-width="1"/>
<line x1="315.3" y1="256.4" x2="315.3" y2="280.1" stroke="#0b0b0b" stroke-width="1"/>
<line x1="313.8" y1="256.4" x2="316.8" y2="256.4" stroke="#0b0b0b" stroke-width="1"/>
<line x1="313.8" y1="280.1" x2="316.8" y2="280.1" stroke="#0b0b0b" stroke-width="1"/>
<line x1="335.3" y1="248.4" x2="335.3" y2="272.4" stroke="#0b0b0b" stroke-width="1"/>
<line x1="333.8" y1="248.4" x2="336.8" y2="248.4" stroke="#0b0b0b" stroke-width="1"/>
<line x1="333.8" y1="272.4" x2="336.8" y2="272.4" stroke="#0b0b0b" stroke-width="1"/>
<line x1="355.3" y1="270" x2="355.3" y2="285.8" stroke="#0b0b0b" stroke-width="1"/>
<line x1="353.8" y1="270" x2="356.8" y2="270" stroke="#0b0b0b" stroke-width="1"/>
<line x1="353.8" y1="285.8" x2="356.8" y2="285.8" stroke="#0b0b0b" stroke-width="1"/>
<line x1="375.3" y1="286.5" x2="375.3" y2="300.6" stroke="#0b0b0b" stroke-width="1"/>
<line x1="373.8" y1="286.5" x2="376.8" y2="286.5" stroke="#0b0b0b" stroke-width="1"/>
<line x1="373.8" y1="300.6" x2="376.8" y2="300.6" stroke="#0b0b0b" stroke-width="1"/>
<polyline points="315.3,230.2 335.3,277.2 355.3,265.58 375.3,279.31" fill="none" stroke="#0b0b0b" stroke-width="1.2"/>
<polyline points="315.3,268.22 335.3,259.77 355.3,278.25 375.3,293.04" fill="none" stroke="#0b0b0b" stroke-width="1.2"/>
<path d="M315.3 227.45 L318.05 230.2 L315.3 232.95 L312.55 230.2Z" fill="#0b0b0b"/>
<path d="M335.3 274.45 L338.05 277.2 L335.3 279.95 L332.55 277.2Z" fill="#0b0b0b"/>
<path d="M355.3 262.83 L358.05 265.58 L355.3 268.33 L352.55 265.58Z" fill="#0b0b0b"/>
<path d="M375.3 276.56 L378.05 279.31 L375.3 282.06 L372.55 279.31Z" fill="#0b0b0b"/>
<rect x="313.4" y="266.32" width="3.8" height="3.8" fill="#c8c8c8" stroke="#222" stroke-width="1.1"/>
<rect x="333.4" y="257.87" width="3.8" height="3.8" fill="#c8c8c8" stroke="#222" stroke-width="1.1"/>
<rect x="353.4" y="276.35" width="3.8" height="3.8" fill="#c8c8c8" stroke="#222" stroke-width="1.1"/>
<rect x="373.4" y="291.14" width="3.8" height="3.8" fill="#c8c8c8" stroke="#222" stroke-width="1.1"/>
<text x="315.3" y="218.24" font-size="10.5" font-weight="bold" text-anchor="middle" fill="#0b0b0b">*</text>
<path d="M337 217.55 L339.85 220.4 L337 223.25 L334.15 220.4Z" fill="#0b0b0b"/>
<text x="340.6" y="223" font-size="6.9" stroke="#0b0b0b" stroke-width="0.18" fill="#0b0b0b">Nrf2<tspan font-size="4.69" dy="-2.76" font-weight="bold">+/-</tspan></text>
<rect x="334.9" y="229.1" width="3.8" height="3.8" fill="#c8c8c8" stroke="#222" stroke-width="1.1"/>
<text x="340.6" y="233.6" font-size="6.9" stroke="#0b0b0b" stroke-width="0.18" fill="#0b0b0b">Nrf2<tspan font-size="4.14" dy="-2.76" font-weight="bold">-/-</tspan></text>
<text x="399.2" y="189.7" font-size="13.6" font-weight="bold" stroke="#0b0b0b" stroke-width="0.61" fill="#0b0b0b">J</text>
<line x1="425.6" y1="206.3" x2="425.6" y2="316.3" stroke="#0b0b0b" stroke-width="1"/>
<line x1="423.8" y1="315.8" x2="425.6" y2="315.8" stroke="#0b0b0b" stroke-width="0.9"/>
<text x="419.2" y="318.77" font-size="6.9" text-anchor="end" font-weight="bold" stroke="#0b0b0b" stroke-width="0.31" fill="#0b0b0b">0</text>
<line x1="423.8" y1="297.55" x2="425.6" y2="297.55" stroke="#0b0b0b" stroke-width="0.9"/>
<text x="419.2" y="300.52" font-size="6.9" text-anchor="end" font-weight="bold" stroke="#0b0b0b" stroke-width="0.31" fill="#0b0b0b">20</text>
<line x1="423.8" y1="279.3" x2="425.6" y2="279.3" stroke="#0b0b0b" stroke-width="0.9"/>
<text x="419.2" y="282.27" font-size="6.9" text-anchor="end" font-weight="bold" stroke="#0b0b0b" stroke-width="0.31" fill="#0b0b0b">40</text>
<line x1="423.8" y1="261.05" x2="425.6" y2="261.05" stroke="#0b0b0b" stroke-width="0.9"/>
<text x="419.2" y="264.02" font-size="6.9" text-anchor="end" font-weight="bold" stroke="#0b0b0b" stroke-width="0.31" fill="#0b0b0b">60</text>
<line x1="423.8" y1="242.8" x2="425.6" y2="242.8" stroke="#0b0b0b" stroke-width="0.9"/>
<text x="419.2" y="245.77" font-size="6.9" text-anchor="end" font-weight="bold" stroke="#0b0b0b" stroke-width="0.31" fill="#0b0b0b">80</text>
<line x1="423.8" y1="224.55" x2="425.6" y2="224.55" stroke="#0b0b0b" stroke-width="0.9"/>
<text x="419.2" y="227.52" font-size="6.9" text-anchor="end" font-weight="bold" stroke="#0b0b0b" stroke-width="0.31" fill="#0b0b0b">100</text>
<line x1="423.8" y1="206.3" x2="425.6" y2="206.3" stroke="#0b0b0b" stroke-width="0.9"/>
<text x="419.2" y="209.27" font-size="6.9" text-anchor="end" font-weight="bold" stroke="#0b0b0b" stroke-width="0.31" fill="#0b0b0b">120</text>
<line x1="425.1" y1="315.8" x2="489.2" y2="315.8" stroke="#0b0b0b" stroke-width="1"/>
<line x1="425.6" y1="315.8" x2="425.6" y2="317.8" stroke="#0b0b0b" stroke-width="0.9"/>
<line x1="457.2" y1="315.8" x2="457.2" y2="317.8" stroke="#0b0b0b" stroke-width="0.9"/>
<line x1="488.9" y1="315.8" x2="488.9" y2="317.8" stroke="#0b0b0b" stroke-width="0.9"/>
<rect x="435.2" y="286.6" width="13.4" height="29.2" fill="#b4b4b4"/>
<path d="M435.2 315.4L435.6 315.8M435.2 287L435.6 286.6M435.2 313.2L437.8 315.8M435.2 289.2L437.8 286.6M435.2 311L440 315.8M435.2 291.4L440 286.6M435.2 308.8L442.2 315.8M435.2 293.6L442.2 286.6M435.2 306.6L444.4 315.8M435.2 295.8L444.4 286.6M435.2 304.4L446.6 315.8M435.2 298L446.6 286.6M435.2 302.2L448.6 315.6M435.2 300.2L448.6 286.8M435.2 300L448.6 313.4M435.2 302.4L448.6 289M435.2 297.8L448.6 311.2M435.2 304.6L448.6 291.2M435.2 295.6L448.6 309M435.2 306.8L448.6 293.4M435.2 293.4L448.6 306.8M435.2 309L448.6 295.6M435.2 291.2L448.6 304.6M435.2 311.2L448.6 297.8M435.2 289L448.6 302.4M435.2 313.4L448.6 300M435.2 286.8L448.6 300.2M435.2 315.6L448.6 302.2M437.2 286.6L448.6 298M437.2 315.8L448.6 304.4M439.4 286.6L448.6 295.8M439.4 315.8L448.6 306.6M441.6 286.6L448.6 293.6M441.6 315.8L448.6 308.8M443.8 286.6L448.6 291.4M443.8 315.8L448.6 311M446 286.6L448.6 289.2M446 315.8L448.6 313.2M448.2 286.6L448.6 287M448.2 315.8L448.6 315.4" stroke="#2a2a2a" stroke-width="0.62" fill="none"/>
<rect x="435.2" y="286.6" width="13.4" height="29.2" fill="none" stroke="#0b0b0b" stroke-width="0.7"/>
<rect x="435.2" y="261.05" width="13.4" height="25.55" fill="#fff"/>
<path d="M435.2 285L436.8 286.6M435.2 282.4L439.4 286.6M435.2 279.8L442 286.6M435.2 277.2L444.6 286.6M435.2 274.6L447.2 286.6M435.2 272L448.6 285.4M435.2 269.4L448.6 282.8M435.2 266.8L448.6 280.2M435.2 264.2L448.6 277.6M435.2 261.6L448.6 275M437.25 261.05L448.6 272.4M439.85 261.05L448.6 269.8M442.45 261.05L448.6 267.2M445.05 261.05L448.6 264.6M447.65 261.05L448.6 262" stroke="#1a1a1a" stroke-width="0.9" fill="none"/>
<rect x="435.2" y="261.05" width="13.4" height="25.55" fill="none" stroke="#0b0b0b" stroke-width="0.7"/>
<rect x="435.2" y="250.56" width="13.4" height="10.49" fill="#0b0b0b"/>
<rect x="435.2" y="250.56" width="13.4" height="10.49" fill="none" stroke="#0b0b0b" stroke-width="0.7"/>
<rect x="435.2" y="231.85" width="13.4" height="18.71" fill="#fff"/>
<rect x="435.2" y="231.85" width="13.4" height="18.71" fill="none" stroke="#0b0b0b" stroke-width="0.7"/>
<rect x="435.2" y="224.55" width="13.4" height="7.3" fill="#9a9a9a"/>
<rect x="435.2" y="224.55" width="13.4" height="7.3" fill="none" stroke="#0b0b0b" stroke-width="0.7"/>
<rect x="466.5" y="294.36" width="13.4" height="21.44" fill="#b4b4b4"/>
<path d="M466.5 313.7L468.6 315.8M466.5 296.46L468.6 294.36M466.5 311.5L470.8 315.8M466.5 298.66L470.8 294.36M466.5 309.3L473 315.8M466.5 300.86L473 294.36M466.5 307.1L475.2 315.8M466.5 303.06L475.2 294.36M466.5 304.9L477.4 315.8M466.5 305.26L477.4 294.36M466.5 302.7L479.6 315.8M466.5 307.46L479.6 294.36M466.5 300.5L479.9 313.9M466.5 309.66L479.9 296.26M466.5 298.3L479.9 311.7M466.5 311.86L479.9 298.46M466.5 296.1L479.9 309.5M466.5 314.06L479.9 300.66M466.96 294.36L479.9 307.3M466.96 315.8L479.9 302.86M469.16 294.36L479.9 305.1M469.16 315.8L479.9 305.06M471.36 294.36L479.9 302.9M471.36 315.8L479.9 307.26M473.56 294.36L479.9 300.7M473.56 315.8L479.9 309.46M475.76 294.36L479.9 298.5M475.76 315.8L479.9 311.66M477.96 294.36L479.9 296.3M477.96 315.8L479.9 313.86" stroke="#2a2a2a" stroke-width="0.62" fill="none"/>
<rect x="466.5" y="294.36" width="13.4" height="21.44" fill="none" stroke="#0b0b0b" stroke-width="0.7"/>
<rect x="466.5" y="278.39" width="13.4" height="15.97" fill="#fff"/>
<path d="M466.5 292.86L468 294.36M466.5 290.26L470.6 294.36M466.5 287.66L473.2 294.36M466.5 285.06L475.8 294.36M466.5 282.46L478.4 294.36M466.5 279.86L479.9 293.26M467.63 278.39L479.9 290.66M470.23 278.39L479.9 288.06M472.83 278.39L479.9 285.46M475.43 278.39L479.9 282.86M478.03 278.39L479.9 280.26" stroke="#1a1a1a" stroke-width="0.9" fill="none"/>
<rect x="466.5" y="278.39" width="13.4" height="15.97" fill="none" stroke="#0b0b0b" stroke-width="0.7"/>
<rect x="466.5" y="269.26" width="13.4" height="9.12" fill="#0b0b0b"/>
<rect x="466.5" y="269.26" width="13.4" height="9.12" fill="none" stroke="#0b0b0b" stroke-width="0.7"/>
<rect x="466.5" y="259.68" width="13.4" height="9.58" fill="#fff"/>
<rect x="466.5" y="259.68" width="13.4" height="9.58" fill="none" stroke="#0b0b0b" stroke-width="0.7"/>
<rect x="466.5" y="249.64" width="13.4" height="10.04" fill="#9a9a9a"/>
<rect x="466.5" y="249.64" width="13.4" height="10.04" fill="none" stroke="#0b0b0b" stroke-width="0.7"/>
<line x1="441.9" y1="284.3" x2="441.9" y2="288.6" stroke="#0b0b0b" stroke-width="0.7"/>
<line x1="440.7" y1="284.3" x2="443.1" y2="284.3" stroke="#0b0b0b" stroke-width="0.7"/>
<line x1="440.7" y1="288.6" x2="443.1" y2="288.6" stroke="#0b0b0b" stroke-width="0.7"/>
<line x1="441.9" y1="256.8" x2="441.9" y2="262.2" stroke="#0b0b0b" stroke-width="0.7"/>
<line x1="440.7" y1="256.8" x2="443.1" y2="256.8" stroke="#0b0b0b" stroke-width="0.7"/>
<line x1="440.7" y1="262.2" x2="443.1" y2="262.2" stroke="#0b0b0b" stroke-width="0.7"/>
<line x1="441.9" y1="230" x2="441.9" y2="232.6" stroke="#0b0b0b" stroke-width="0.7"/>
<line x1="440.7" y1="230" x2="443.1" y2="230" stroke="#0b0b0b" stroke-width="0.7"/>
<line x1="440.7" y1="232.6" x2="443.1" y2="232.6" stroke="#0b0b0b" stroke-width="0.7"/>
<line x1="441.9" y1="225.4" x2="441.9" y2="229" stroke="#0b0b0b" stroke-width="0.7"/>
<line x1="440.7" y1="225.4" x2="443.1" y2="225.4" stroke="#0b0b0b" stroke-width="0.7"/>
<line x1="440.7" y1="229" x2="443.1" y2="229" stroke="#0b0b0b" stroke-width="0.7"/>
<line x1="473.2" y1="292.6" x2="473.2" y2="295.6" stroke="#0b0b0b" stroke-width="0.7"/>
<line x1="472" y1="292.6" x2="474.4" y2="292.6" stroke="#0b0b0b" stroke-width="0.7"/>
<line x1="472" y1="295.6" x2="474.4" y2="295.6" stroke="#0b0b0b" stroke-width="0.7"/>
<line x1="473.2" y1="257.6" x2="473.2" y2="261.2" stroke="#0b0b0b" stroke-width="0.7"/>
<line x1="472" y1="257.6" x2="474.4" y2="257.6" stroke="#0b0b0b" stroke-width="0.7"/>
<line x1="472" y1="261.2" x2="474.4" y2="261.2" stroke="#0b0b0b" stroke-width="0.7"/>
<line x1="473.2" y1="251.2" x2="473.2" y2="256" stroke="#0b0b0b" stroke-width="0.7"/>
<line x1="472" y1="251.2" x2="474.4" y2="251.2" stroke="#0b0b0b" stroke-width="0.7"/>
<line x1="472" y1="256" x2="474.4" y2="256" stroke="#0b0b0b" stroke-width="0.7"/>
<text x="474.2" y="247.64" font-size="10.5" font-weight="bold" text-anchor="middle" fill="#0b0b0b">*</text>
<text x="484.8" y="268.04" font-size="10.5" font-weight="bold" text-anchor="middle" fill="#0b0b0b">*</text>
<text x="484.8" y="304.04" font-size="10.5" font-weight="bold" text-anchor="middle" fill="#0b0b0b">*</text>
<text x="443.6" y="329.8" font-size="6.9" text-anchor="middle" font-weight="bold" stroke="#0b0b0b" stroke-width="0.31" fill="#0b0b0b">Nrf2<tspan font-size="4.69" dy="-2.76" font-weight="bold">+/-</tspan></text>
<text x="474.3" y="329.8" font-size="6.9" text-anchor="middle" font-weight="bold" stroke="#0b0b0b" stroke-width="0.31" fill="#0b0b0b">Nrf2<tspan font-size="4.14" dy="-2.76" font-weight="bold">-/-</tspan></text>
<text x="406.5" y="257" font-size="7.25" text-anchor="middle" stroke="#0b0b0b" stroke-width="0.18" transform="rotate(-90 406.5 257)" fill="#0b0b0b" textLength="86.3" lengthAdjust="spacing">Relative % of total colonies</text>
<rect x="460.6" y="187" width="3.1" height="3.1" fill="#9a9a9a" stroke="#0b0b0b" stroke-width="0.7"/>
<text x="465" y="192.7" font-size="7.3" stroke="#0b0b0b" stroke-width="0.18" fill="#0b0b0b">BFU-E</text>
<rect x="460.6" y="197.17" width="3.1" height="3.1" fill="#fff" stroke="#0b0b0b" stroke-width="0.7"/>
<text x="465" y="202.87" font-size="7.3" stroke="#0b0b0b" stroke-width="0.18" fill="#0b0b0b">CFU-M</text>
<rect x="460.6" y="207.34" width="3.1" height="3.1" fill="#0b0b0b" stroke="#0b0b0b" stroke-width="0.7"/>
<text x="465" y="213.04" font-size="7.3" stroke="#0b0b0b" stroke-width="0.18" fill="#0b0b0b">CFU-G</text>
<rect x="460.6" y="217.51" width="3.1" height="3.1" fill="#bbb" stroke="#0b0b0b" stroke-width="0.7"/>
<text x="465" y="223.21" font-size="7.3" stroke="#0b0b0b" stroke-width="0.18" fill="#0b0b0b">CFU-GM</text>
<rect x="460.6" y="227.68" width="3.1" height="3.1" fill="#6e6e6e" stroke="#0b0b0b" stroke-width="0.7"/>
<text x="465" y="233.38" font-size="7.3" stroke="#0b0b0b" stroke-width="0.18" fill="#0b0b0b">CFU-GEMM</text>
</svg>
</body>
</html>
